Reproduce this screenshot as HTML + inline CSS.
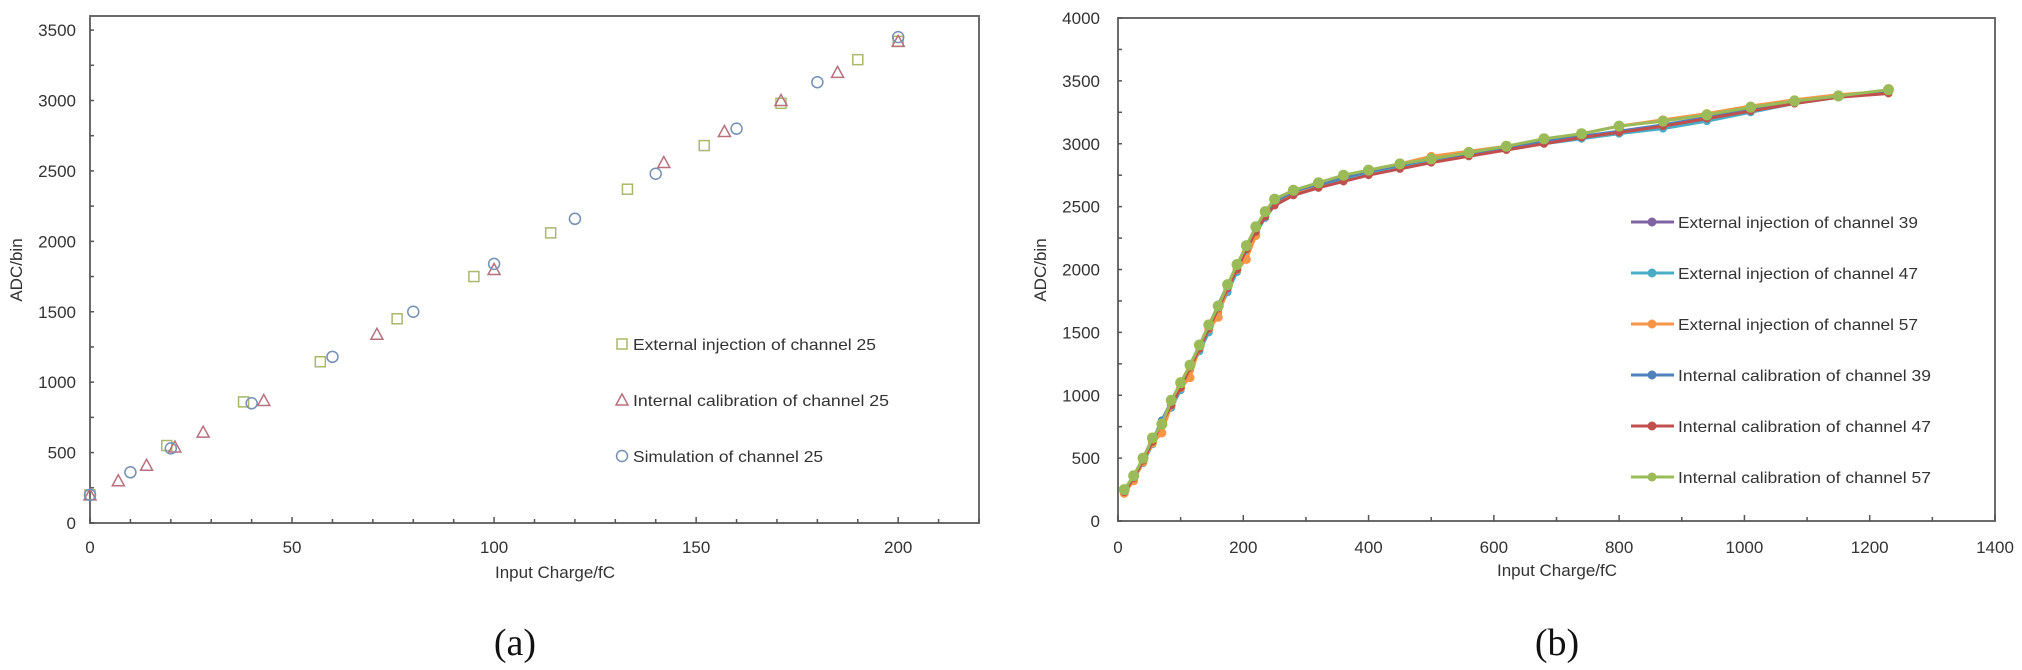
<!DOCTYPE html>
<html><head><meta charset="utf-8"><style>
html,body{margin:0;padding:0;background:#fff;}
svg{display:block;font-family:"Liberation Sans",sans-serif;}
</style></head><body>
<svg id="fig" width="2022" height="670" viewBox="0 0 2022 670" xmlns="http://www.w3.org/2000/svg"></svg>
<script>
// ---------- Chart (a) data ----------
const aExtX = [0, 19, 38, 57, 76, 95, 114, 133, 152, 171, 190, 200];
const aExtY = [200, 550, 860, 1145, 1450, 1750, 2060, 2370, 2680, 2980, 3290, 3420];
const aIntX = [0, 7, 14, 21, 28, 43, 71, 100, 142, 157, 171, 185, 200];
const aIntY = [200, 300, 410, 540, 645, 870, 1340, 1800, 2560, 2780, 3000, 3200, 3420];
const aSimX = [0, 10, 20, 40, 60, 80, 100, 120, 140, 160, 180, 200];
const aSimY = [200, 360, 530, 850, 1180, 1500, 1840, 2160, 2480, 2800, 3130, 3450];
const aXTicks = [0, 50, 100, 150, 200];
const aYTicks = [0, 500, 1000, 1500, 2000, 2500, 3000, 3500];
const aLegend = ["External injection of channel 25", "Internal calibration of channel 25", "Simulation of channel 25"];

// ---------- Chart (b) data ----------
const bX = [10,25,40,55,70,85,100,115,130,145,160,175,190,205,220,235,250,280,320,360,400,450,500,560,620,680,740,800,870,940,1010,1080,1150,1230];
const bExt39 = [230,350,480,630,790,930,1080,1230,1380,1540,1700,1860,2010,2180,2320,2440,2530,2610,2670,2730,2780,2830,2870,2920,2960,3010,3050,3090,3140,3200,3260,3330,3380,3410];
const bExt47 = [220,330,460,610,760,900,1040,1200,1350,1500,1660,1820,1980,2150,2290,2410,2510,2590,2650,2710,2760,2810,2860,2910,2960,3000,3040,3080,3120,3180,3250,3320,3370,3410];
const bExt57 = [220,320,470,620,700,920,1060,1140,1380,1530,1620,1860,2000,2080,2270,2440,2540,2610,2680,2740,2790,2840,2900,2940,2980,3030,3080,3140,3190,3240,3300,3350,3390,3420];
const bInt39 = [240,350,490,640,800,950,1090,1240,1390,1550,1720,1880,2030,2190,2330,2450,2540,2620,2680,2730,2780,2830,2880,2920,2970,3020,3060,3100,3150,3210,3270,3330,3370,3410];
const bInt47 = [230,340,480,630,780,920,1060,1220,1370,1530,1690,1850,2000,2160,2300,2420,2510,2590,2650,2700,2750,2800,2850,2900,2950,3000,3050,3090,3140,3200,3260,3320,3370,3400];
const bInt57 = [250,360,500,660,770,960,1100,1240,1400,1560,1710,1880,2040,2190,2340,2460,2560,2630,2690,2750,2790,2840,2880,2930,2980,3040,3080,3140,3180,3230,3290,3340,3380,3430];
const bXTicks = [0, 200, 400, 600, 800, 1000, 1200, 1400];
const bYTicks = [0, 500, 1000, 1500, 2000, 2500, 3000, 3500, 4000];
const bNames = ["External injection of channel 39","External injection of channel 47","External injection of channel 57","Internal calibration of channel 39","Internal calibration of channel 47","Internal calibration of channel 57"];

const NS = "http://www.w3.org/2000/svg";
const svg = document.getElementById("fig");
function mk(tag, attrs, parent, text) {
  const e = document.createElementNS(NS, tag);
  for (const k in attrs) e.setAttribute(k, attrs[k]);
  if (text !== undefined) e.textContent = text;
  (parent || svg).appendChild(e);
  return e;
}

// ---------- Chart (a) ----------
const aL = 90, aR = 979, aT = 16, aB = 523;
const aXMax = 220, aYMax = 3600;
const ax = v => aL + v / aXMax * (aR - aL);
const ay = v => aB - v / aYMax * (aB - aT);
const gA = mk("g", {});


const frameA = mk("rect", {x: aL, y: aT, width: aR - aL, height: aB - aT, fill: "none", stroke: "#6b6b6b", "stroke-width": 2}, gA);


for (let v = 0; v <= aXMax; v += 10) {
  const t = mk("line", {x1: ax(v), x2: ax(v), y1: aB, y2: aB - (v % 50 === 0 ? 6 : 4), stroke: "#555", "stroke-width": 1.5}, gA);
  
  
}
for (let v = 0; v <= 3500; v += 250) {
  const t = mk("line", {x1: aL, x2: aL + 4, y1: ay(v), y2: ay(v), stroke: "#555", "stroke-width": 1.5}, gA);
  
  
}
aXTicks.forEach(v => {
  const t = mk("text", {x: ax(v), y: aB + 30, "text-anchor": "middle", "font-size": 17, fill: "#333"}, gA, String(v));
  
  
});
aYTicks.forEach(v => {
  const t = mk("text", {x: aL - 14, y: ay(v) + 6, "text-anchor": "end", "font-size": 17, fill: "#333"}, gA, String(v));
  
  
});
const aXT = mk("text", {x: 555, y: 578, "text-anchor": "middle", "font-size": 17, fill: "#333"}, gA, "Input Charge/fC");


const aYT = mk("text", {x: 22, y: 270, "text-anchor": "middle", "font-size": 17, fill: "#333", transform: "rotate(-90 22 270)"}, gA, "ADC/bin");



function square(cx, cy, col, g) {
  const e = mk("rect", {x: cx - 5, y: cy - 5, width: 10, height: 10, fill: "none", stroke: col, "stroke-width": 1.5}, g);
  return e;
}
function tri(cx, cy, col, g) {
  return mk("polygon", {points: `${cx},${cy-6} ${cx+6},${cy+5} ${cx-6},${cy+5}`, fill: "none", stroke: col, "stroke-width": 1.5}, g);
}
function circ(cx, cy, col, g) {
  return mk("circle", {cx: cx, cy: cy, r: 5.5, fill: "none", stroke: col, "stroke-width": 1.5}, g);
}
const cSq = "#a9b86a", cTr = "#b8707e", cCi = "#7590b5";
aExtX.forEach((x, i) => {
  const e = square(ax(x), ay(aExtY[i]), cSq, gA);
  
  
});
aIntX.forEach((x, i) => {
  const e = tri(ax(x), ay(aIntY[i]), cTr, gA);
  
  
});
aSimX.forEach((x, i) => {
  const e = circ(ax(x), ay(aSimY[i]), cCi, gA);
  
  
});
const aCols = [cSq, cTr, cCi];
const aFns = [square, tri, circ];
aLegend.forEach((name, i) => {
  const y = 344 + i * 56;
  const g = mk("g", {}, gA);
  
  
  aFns[i](622, y, aCols[i], g);
  mk("text", {x: 633, y: y + 6, "font-size": 16, fill: "#333", textLength: i === 1 ? 256 : (i === 0 ? 243 : 190), lengthAdjust: "spacingAndGlyphs"}, g, name);
});
const la = mk("text", {x: 515, y: 655, "text-anchor": "middle", "font-size": 38, "font-family": "Liberation Serif, serif", fill: "#111"}, svg, "(a)");



// ---------- Chart (b) ----------
const bL = 1118, bR = 1995, bT = 18, bB = 521;
const bXMax = 1400, bYMax = 4000;
const bx = v => bL + v / bXMax * (bR - bL);
const by = v => bB - v / bYMax * (bB - bT);
const gB = mk("g", {});


const frameB = mk("rect", {x: bL, y: bT, width: bR - bL, height: bB - bT, fill: "none", stroke: "#6b6b6b", "stroke-width": 2}, gB);


for (let v = 0; v <= bXMax; v += 100) {
  const t = mk("line", {x1: bx(v), x2: bx(v), y1: bB, y2: bB - (v % 200 === 0 ? 6 : 4), stroke: "#555", "stroke-width": 1.5}, gB);
  
  
}
for (let v = 0; v <= 4000; v += 250) {
  const t = mk("line", {x1: bL, x2: bL + 4, y1: by(v), y2: by(v), stroke: "#555", "stroke-width": 1.5}, gB);
  
  
}
bXTicks.forEach(v => {
  const t = mk("text", {x: bx(v), y: bB + 32, "text-anchor": "middle", "font-size": 17, fill: "#333"}, gB, String(v));
  
  
});
bYTicks.forEach(v => {
  const t = mk("text", {x: bL - 18, y: by(v) + 6, "text-anchor": "end", "font-size": 17, fill: "#333"}, gB, String(v));
  
  
});
const bXT = mk("text", {x: 1557, y: 576, "text-anchor": "middle", "font-size": 17, fill: "#333"}, gB, "Input Charge/fC");


const bYT = mk("text", {x: 1046, y: 270, "text-anchor": "middle", "font-size": 17, fill: "#333", transform: "rotate(-90 1046 270)"}, gB, "ADC/bin");



const bSeries = [bExt39, bExt47, bExt57, bInt39, bInt47, bInt57];
const bCols = ["#8064a2", "#4bacc6", "#f79646", "#4f81bd", "#c0504d", "#9bbb59"];
const bR0 = [4, 4, 4.5, 4, 4, 5.5];
bSeries.forEach((ys, s) => {
  const g = mk("g", {}, gB);
  
  
  const pts = bX.map((x, i) => bx(x) + "," + by(ys[i])).join(" ");
  const pl = mk("polyline", {points: pts, fill: "none", stroke: bCols[s], "stroke-width": 3, "stroke-linejoin": "round"}, g);
  
  
  bX.forEach((x, i) => {
    const c = mk("circle", {cx: bx(x), cy: by(ys[i]), r: bR0[s], fill: bCols[s]}, g);
    
    
  });
});
bNames.forEach((name, i) => {
  const y = 222 + i * 51;
  const g = mk("g", {}, gB);
  
  
  mk("line", {x1: 1631, x2: 1674, y1: y, y2: y, stroke: bCols[i], "stroke-width": 3}, g);
  mk("circle", {cx: 1652, cy: y, r: 4.5, fill: bCols[i]}, g);
  mk("text", {x: 1678, y: y + 6, "font-size": 16, fill: "#333", textLength: i < 3 ? 240 : 253, lengthAdjust: "spacingAndGlyphs"}, g, name);
});
const lb = mk("text", {x: 1557, y: 655, "text-anchor": "middle", "font-size": 38, "font-family": "Liberation Serif, serif", fill: "#111"}, svg, "(b)");


</script>
</body></html>
